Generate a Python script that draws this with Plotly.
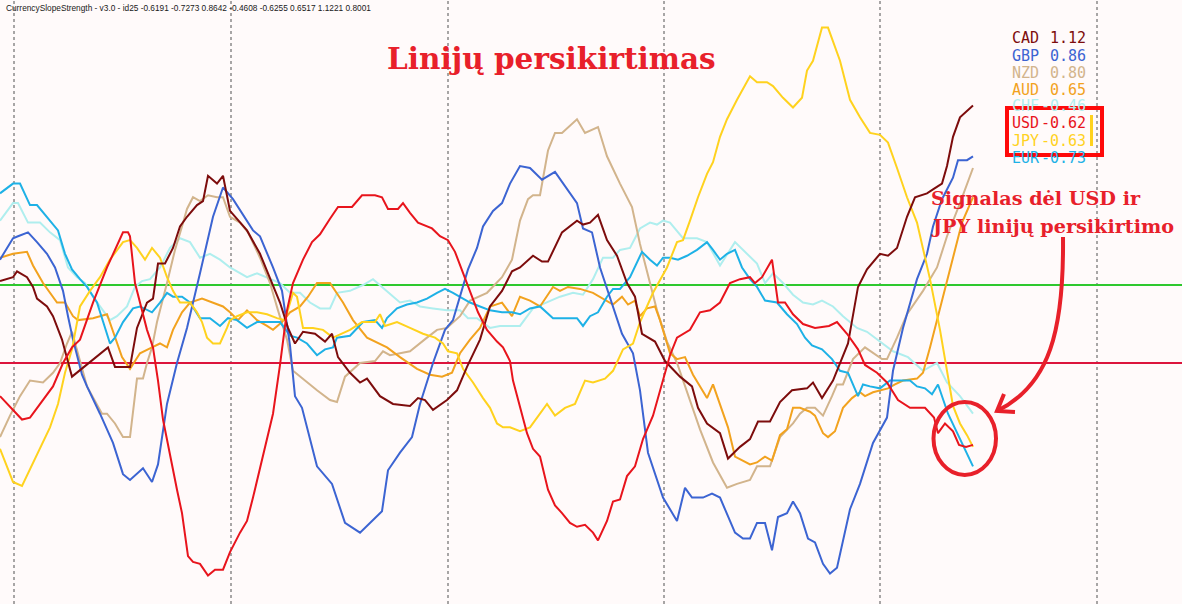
import plotly.graph_objects as go

W, H = 1182, 604

# (bar, value) pairs, one list per currency
cad = [(0, 0.22), (13, 0.24), (17, 0.27), (27, 0.24), (33, 0.19), (37, 0.13), (47, 0.09), (53, 0.04), (62, -0.08), (72, -0.27),
       (108, -0.12), (115, -0.22), (130, -0.22), (137, -0.02), (147, 0.11), (153, 0.13), (158, 0.31), (165, 0.31), (173, 0.39), (180, 0.50),
       (187, 0.55), (197, 0.61), (203, 0.63), (208, 0.76), (217, 0.72), (223, 0.76), (230, 0.58), (247, 0.48), (260, 0.36), (270, 0.23),
       (280, 0.11), (288, -0.02), (295, -0.10), (303, -0.04), (315, -0.05), (325, -0.09), (332, -0.05), (338, -0.17), (350, -0.25), (360, -0.30),
       (367, -0.28), (380, -0.37), (393, -0.41), (410, -0.42), (418, -0.38), (425, -0.39), (433, -0.44), (447, -0.39), (457, -0.34), (467, -0.22),
       (480, -0.08), (490, 0.09), (502, 0.17), (512, 0.27), (520, 0.29), (533, 0.35), (542, 0.32), (548, 0.32), (562, 0.47), (577, 0.53),
       (583, 0.51), (590, 0.52), (598, 0.56), (607, 0.43), (617, 0.35), (627, 0.21), (635, 0.14), (642, -0.05), (655, -0.09), (665, -0.19),
       (680, -0.27), (692, -0.32), (698, -0.43), (707, -0.51), (720, -0.56), (728, -0.69), (740, -0.63), (750, -0.59), (758, -0.50), (770, -0.50),
       (780, -0.40), (792, -0.34), (807, -0.33), (813, -0.30), (822, -0.38), (833, -0.29), (840, -0.20), (848, -0.10), (858, 0.19), (867, 0.28),
       (880, 0.36), (888, 0.35), (897, 0.39), (907, 0.55), (915, 0.65), (927, 0.67), (933, 0.69), (942, 0.72), (947, 0.81), (953, 0.96),
       (960, 1.06), (973, 1.12)]

gbp = [(0, 0.33), (13, 0.44), (18, 0.45), (28, 0.47), (37, 0.42), (47, 0.36), (55, 0.29), (63, 0.17), (68, 0.04), (73, -0.08),
       (82, -0.26), (87, -0.32), (100, -0.46), (113, -0.61), (123, -0.77), (130, -0.80), (143, -0.74), (152, -0.81), (158, -0.72), (167, -0.41),
       (177, -0.20), (187, -0.02), (200, 0.26), (213, 0.55), (223, 0.70), (233, 0.64), (253, 0.48), (260, 0.45), (273, 0.29), (282, 0.17),
       (290, -0.11), (295, -0.37), (302, -0.43), (317, -0.73), (332, -0.82), (345, -1.02), (360, -1.07), (370, -1.02), (382, -0.96), (388, -0.75),
       (400, -0.66), (412, -0.58), (420, -0.41), (433, -0.20), (445, -0.03), (453, 0.02), (460, 0.14), (468, 0.28), (477, 0.39), (483, 0.50),
       (493, 0.58), (502, 0.62), (510, 0.72), (520, 0.81), (530, 0.80), (542, 0.74), (555, 0.78), (567, 0.69), (577, 0.62), (583, 0.49),
       (592, 0.47), (600, 0.29), (610, 0.14), (622, -0.05), (633, -0.15), (640, -0.34), (648, -0.66), (663, -0.89), (677, -1.01), (685, -0.84),
       (692, -0.89), (703, -0.89), (712, -0.87), (720, -0.89), (735, -1.07), (743, -1.10), (750, -1.10), (757, -1.02), (765, -1.02), (772, -1.16),
       (778, -0.99), (787, -0.97), (793, -0.91), (800, -0.97), (808, -1.10), (815, -1.12), (823, -1.23), (830, -1.28), (837, -1.25), (850, -0.95),
       (860, -0.82), (873, -0.61), (887, -0.48), (893, -0.24), (903, -0.02), (917, 0.23), (927, 0.36), (933, 0.50), (942, 0.64), (953, 0.75),
       (958, 0.84), (967, 0.84), (973, 0.86)]

nzd = [(0, -0.58), (10, -0.47), (20, -0.37), (30, -0.29), (43, -0.30), (53, -0.25), (60, -0.20), (67, -0.10), (72, -0.04), (87, -0.32),
       (102, -0.46), (107, -0.46), (115, -0.51), (123, -0.58), (130, -0.58), (137, -0.28), (143, -0.28), (147, -0.20), (152, -0.12), (157, 0.01),
       (167, 0.21), (175, 0.38), (182, 0.50), (187, 0.59), (193, 0.65), (200, 0.63), (208, 0.66), (217, 0.65), (223, 0.65), (230, 0.55),
       (240, 0.52), (248, 0.47), (260, 0.34), (270, 0.21), (278, 0.07), (287, -0.08), (293, -0.24), (307, -0.30), (317, -0.34), (330, -0.39),
       (337, -0.40), (345, -0.27), (360, -0.20), (375, -0.19), (383, -0.14), (390, -0.16), (410, -0.14), (427, -0.07), (437, -0.03), (447, -0.02),
       (460, 0.04), (470, 0.12), (487, 0.16), (502, 0.24), (512, 0.33), (520, 0.53), (528, 0.64), (533, 0.66), (540, 0.66), (548, 0.89),
       (555, 0.98), (562, 0.98), (577, 1.05), (585, 0.98), (598, 1.01), (607, 0.86), (620, 0.72), (632, 0.60), (640, 0.41), (657, 0.07),
       (667, -0.09), (677, -0.20), (690, -0.39), (700, -0.54), (713, -0.71), (727, -0.84), (737, -0.82), (750, -0.80), (757, -0.73), (770, -0.73),
       (780, -0.58), (793, -0.51), (800, -0.46), (807, -0.43), (815, -0.43), (823, -0.47), (832, -0.37), (837, -0.31), (843, -0.31), (853, -0.18),
       (865, -0.12), (873, -0.15), (882, -0.18), (887, -0.18), (897, -0.07), (907, 0.05), (923, 0.17), (937, 0.29), (947, 0.45), (960, 0.62),
       (973, 0.80)]

aud = [(0, 0.34), (13, 0.36), (27, 0.37), (33, 0.30), (43, 0.21), (57, 0.11), (65, 0.11), (73, 0.04), (78, 0.02), (93, 0.03),
       (107, 0.05), (115, -0.07), (122, -0.17), (130, -0.23), (140, -0.15), (152, -0.12), (160, -0.10), (167, -0.12), (173, -0.03), (182, 0.06),
       (190, 0.11), (202, 0.13), (213, 0.11), (223, 0.09), (230, 0.06), (238, 0.02), (247, 0.07), (257, 0.02), (267, -0.01), (273, -0.03),
       (282, 0.01), (290, 0.06), (300, 0.09), (308, 0.14), (317, 0.21), (330, 0.21), (343, 0.11), (353, 0.02), (367, -0.07), (387, -0.12),
       (400, -0.17), (417, -0.23), (430, -0.26), (442, -0.27), (452, -0.25), (460, -0.15), (470, -0.08), (480, -0.02), (490, 0.09), (502, 0.11),
       (512, 0.04), (520, 0.14), (530, 0.12), (540, 0.09), (553, 0.19), (560, 0.17), (568, 0.19), (580, 0.18), (593, 0.16), (603, 0.13),
       (613, 0.10), (622, 0.14), (628, 0.10), (635, 0.12), (640, 0.04), (647, 0.08), (655, 0.09), (660, 0.02), (670, -0.15), (677, -0.18),
       (685, -0.17), (693, -0.26), (707, -0.38), (713, -0.31), (722, -0.44), (728, -0.53), (735, -0.68), (743, -0.70), (750, -0.72), (757, -0.71),
       (765, -0.68), (772, -0.70), (780, -0.57), (787, -0.54), (793, -0.43), (800, -0.43), (810, -0.45), (815, -0.47), (823, -0.56), (828, -0.58),
       (835, -0.55), (843, -0.43), (852, -0.38), (860, -0.35), (865, -0.37), (873, -0.35), (880, -0.34), (888, -0.33), (895, -0.31), (903, -0.29),
       (917, -0.28), (923, -0.25), (930, -0.12), (938, 0.04), (945, 0.17), (953, 0.33), (962, 0.52), (973, 0.65)]

chf = [(0, 0.53), (13, 0.62), (18, 0.62), (28, 0.52), (40, 0.52), (50, 0.47), (60, 0.43), (68, 0.29), (77, 0.24), (85, 0.21),
       (93, 0.14), (100, 0.09), (110, 0.02), (117, 0.04), (127, 0.09), (135, 0.19), (142, 0.22), (150, 0.23), (160, 0.29), (170, 0.39),
       (180, 0.44), (190, 0.42), (200, 0.34), (210, 0.36), (220, 0.33), (230, 0.29), (247, 0.24), (257, 0.26), (267, 0.24), (280, 0.21),
       (290, 0.16), (300, 0.16), (310, 0.11), (320, 0.08), (330, 0.08), (337, 0.16), (350, 0.17), (363, 0.20), (373, 0.23), (387, 0.17),
       (400, 0.11), (410, 0.12), (420, 0.09), (433, 0.08), (447, 0.07), (460, 0.07), (468, 0.03), (477, 0.03), (490, -0.02), (500, -0.01),
       (520, -0.01), (533, 0.08), (547, 0.11), (560, 0.14), (573, 0.16), (583, 0.15), (593, 0.23), (603, 0.34), (613, 0.34), (620, 0.38),
       (630, 0.39), (640, 0.49), (650, 0.52), (657, 0.51), (663, 0.53), (670, 0.52), (683, 0.44), (697, 0.44), (707, 0.42), (720, 0.30),
       (735, 0.42), (747, 0.36), (757, 0.31), (765, 0.21), (773, 0.26), (783, 0.21), (793, 0.15), (803, 0.11), (813, 0.10), (822, 0.12),
       (833, 0.09), (843, 0.04), (857, -0.02), (867, -0.04), (880, -0.09), (893, -0.14), (908, -0.17), (923, -0.24), (937, -0.20), (947, -0.30),
       (960, -0.37), (973, -0.46)]

usd = [(0, -0.37), (13, -0.44), (22, -0.49), (30, -0.48), (43, -0.39), (53, -0.32), (63, -0.20), (72, -0.12), (80, -0.08), (93, 0.11),
       (107, 0.29), (115, 0.38), (123, 0.47), (128, 0.47), (130, 0.45), (135, 0.21), (140, 0.11), (147, -0.03), (153, -0.12), (158, -0.29),
       (163, -0.49), (170, -0.68), (177, -0.85), (182, -0.97), (188, -1.19), (193, -1.22), (200, -1.23), (208, -1.29), (215, -1.26), (223, -1.26),
       (230, -1.17), (240, -1.07), (247, -1.01), (253, -0.89), (263, -0.68), (273, -0.46), (280, -0.21), (287, 0.07), (293, 0.21), (303, 0.33),
       (312, 0.42), (320, 0.46), (330, 0.54), (338, 0.60), (352, 0.60), (362, 0.66), (375, 0.66), (382, 0.65), (388, 0.59), (398, 0.59),
       (403, 0.62), (410, 0.57), (418, 0.52), (432, 0.49), (440, 0.45), (448, 0.43), (455, 0.37), (463, 0.26), (470, 0.16), (478, 0.06),
       (487, -0.03), (497, -0.09), (503, -0.12), (510, -0.19), (513, -0.29), (520, -0.43), (527, -0.56), (533, -0.64), (540, -0.68), (548, -0.85),
       (555, -0.93), (562, -0.97), (570, -1.02), (577, -1.04), (585, -1.03), (593, -1.07), (598, -1.11), (607, -1.01), (613, -0.91), (620, -0.90),
       (627, -0.78), (635, -0.73), (643, -0.59), (653, -0.47), (663, -0.29), (670, -0.16), (677, -0.07), (690, -0.03), (700, 0.06), (710, 0.07),
       (720, 0.11), (730, 0.21), (740, 0.23), (750, 0.24), (755, 0.21), (762, 0.24), (772, 0.33), (778, 0.11), (785, 0.11), (793, 0.05),
       (803, 0.00), (815, -0.02), (829, -0.01), (837, 0.01), (847, -0.05), (858, -0.13), (865, -0.21), (877, -0.25), (887, -0.30), (898, -0.39),
       (910, -0.43), (925, -0.43), (934, -0.48), (938, -0.56), (945, -0.51), (953, -0.55), (959, -0.62), (966, -0.63), (973, -0.62)]

jpy = [(0, -0.64), (13, -0.81), (22, -0.83), (33, -0.71), (50, -0.53), (58, -0.41), (65, -0.25), (72, -0.13), (80, 0.09), (90, 0.17),
       (100, 0.24), (110, 0.33), (117, 0.38), (123, 0.42), (130, 0.43), (137, 0.39), (145, 0.33), (152, 0.39), (160, 0.34), (167, 0.24),
       (173, 0.17), (180, 0.11), (190, 0.11), (197, 0.06), (202, 0.01), (207, -0.07), (213, -0.10), (220, -0.10), (227, -0.02), (230, 0.02),
       (237, 0.04), (247, 0.06), (257, 0.06), (267, 0.05), (277, 0.03), (285, 0.02), (293, 0.16), (297, 0.14), (303, -0.02), (313, -0.02),
       (323, -0.03), (333, -0.07), (350, -0.03), (362, 0.01), (375, 0.01), (380, 0.05), (385, -0.01), (397, 0.01), (410, -0.02), (423, -0.05),
       (435, -0.07), (443, -0.10), (448, -0.14), (457, -0.15), (463, -0.23), (473, -0.30), (483, -0.38), (490, -0.43), (497, -0.51), (503, -0.53),
       (510, -0.53), (520, -0.55), (530, -0.53), (540, -0.46), (547, -0.41), (555, -0.47), (565, -0.43), (575, -0.41), (585, -0.29), (593, -0.30),
       (605, -0.28), (613, -0.24), (623, -0.13), (633, -0.10), (640, 0.01), (653, 0.16), (667, 0.29), (677, 0.42), (683, 0.43), (690, 0.53),
       (698, 0.65), (707, 0.77), (713, 0.83), (720, 0.96), (727, 1.05), (737, 1.15), (750, 1.27), (757, 1.24), (767, 1.24), (773, 1.22),
       (783, 1.16), (793, 1.11), (802, 1.16), (807, 1.30), (813, 1.35), (822, 1.52), (828, 1.52), (840, 1.35), (850, 1.15), (860, 1.06),
       (870, 0.98), (880, 0.97), (888, 0.93), (897, 0.80), (907, 0.65), (917, 0.52), (923, 0.39), (930, 0.23), (940, -0.03), (947, -0.24),
       (953, -0.42), (960, -0.51), (967, -0.57), (973, -0.63)]

eur = [(0, 0.67), (13, 0.72), (20, 0.72), (30, 0.61), (37, 0.61), (47, 0.55), (58, 0.48), (65, 0.36), (72, 0.28), (80, 0.23),
       (87, 0.19), (97, 0.11), (103, 0.01), (110, -0.10), (115, -0.07), (123, 0.01), (133, 0.08), (140, 0.09), (152, 0.06), (160, 0.11),
       (167, 0.16), (173, 0.14), (182, 0.14), (190, 0.11), (200, 0.03), (210, 0.03), (220, -0.01), (228, 0.03), (237, 0.02), (247, -0.02),
       (257, 0.01), (267, 0.01), (280, 0.01), (290, -0.06), (297, -0.07), (307, -0.10), (317, -0.16), (325, -0.13), (333, -0.12), (337, -0.07),
       (350, -0.06), (363, 0.01), (375, 0.02), (382, -0.02), (387, 0.03), (397, 0.08), (407, 0.10), (417, 0.11), (427, 0.13), (437, 0.16),
       (445, 0.18), (453, 0.16), (460, 0.14), (470, 0.11), (480, 0.09), (490, 0.07), (502, 0.06), (512, 0.06), (520, 0.05), (530, 0.08),
       (540, 0.09), (553, 0.03), (567, 0.03), (577, 0.03), (583, -0.01), (590, 0.04), (598, 0.06), (607, 0.14), (613, 0.18), (620, 0.18),
       (630, 0.24), (642, 0.37), (650, 0.33), (657, 0.30), (663, 0.34), (670, 0.34), (678, 0.33), (687, 0.35), (697, 0.38), (707, 0.42),
       (713, 0.38), (720, 0.33), (727, 0.36), (735, 0.38), (742, 0.29), (750, 0.23), (757, 0.19), (765, 0.12), (777, 0.11), (787, 0.05),
       (797, 0.00), (805, -0.07), (812, -0.11), (822, -0.13), (832, -0.18), (840, -0.24), (848, -0.25), (858, -0.37), (863, -0.31), (870, -0.32),
       (880, -0.33), (890, -0.29), (900, -0.29), (910, -0.29), (917, -0.32), (925, -0.33), (932, -0.36), (938, -0.31), (948, -0.46), (958, -0.57),
       (965, -0.65), (973, -0.73)]

legend_names = ["CAD", "GBP", "NZD", "AUD", "CHF", "USD", "JPY", "EUR"]
legend_values = ["1.12", "0.86", "0.80", "0.65", "-0.46", "-0.62", "-0.63", "-0.73"]
levels = [0.2, -0.2]
grid_bars = [14, 231, 448, 664, 880, 1097]

header = "CurrencySlopeStrength - v3.0 - id25 -0.6191 -0.7273 0.8642 -0.4608 -0.6255 0.6517 1.1221 0.8001"
title = "Linijų persikirtimas"
note_lines = ["Signalas dėl USD ir", "JPY linijų persikirtimo"]

colors = {
    "CAD": "#7d0c0c", "GBP": "#3c64d2", "NZD": "#d2b48c", "AUD": "#f2a21e",
    "CHF": "#afeeee", "USD": "#e8141c", "JPY": "#ffd21e", "EUR": "#1eb1e6",
}
series = {"CHF": chf, "NZD": nzd, "AUD": aud, "EUR": eur, "GBP": gbp, "JPY": jpy, "CAD": cad, "USD": usd}

RED = "#e8202a"
BG = "#fffafa"


def px(x, y):
    # pixel position in the window -> paper coordinates
    return x / W, 1 - y / H


def path(points, close=False):
    parts = []
    for i, (x, y) in enumerate(points):
        a, b = px(x, y)
        parts.append(("M" if i == 0 else "L") + f"{a:.5f},{b:.5f}")
    return " ".join(parts) + (" Z" if close else "")


fig = go.Figure()

for name, pts in series.items():
    fig.add_trace(go.Scatter(
        x=[p[0] for p in pts], y=[p[1] for p in pts],
        mode="lines", line=dict(color=colors[name], width=2),
        name=name, hoverinfo="skip", showlegend=False,
    ))

shapes = []
for g in grid_bars:
    shapes.append(dict(type="line", xref="x", yref="paper", x0=g, x1=g, y0=0, y1=1,
                       line=dict(color="#505050", width=1, dash="3px,3px"), layer="below"))
shapes.append(dict(type="line", xref="paper", yref="y", x0=0, x1=1, y0=levels[0], y1=levels[0],
                   line=dict(color="#2ec82e", width=2), layer="below"))
shapes.append(dict(type="line", xref="paper", yref="y", x0=0, x1=1, y0=levels[1], y1=levels[1],
                   line=dict(color="#dc143c", width=2), layer="below"))

# red box around USD / JPY readings and the small yellow marker inside it
x0, y0 = px(1007, 155)
x1, y1 = px(1102, 108)
shapes.append(dict(type="rect", xref="paper", yref="paper", x0=x0, y0=y0, x1=x1, y1=y1,
                   line=dict(color="#ff0a0a", width=4)))
mx, my0 = px(1091.5, 146)
_, my1 = px(1091.5, 115)
shapes.append(dict(type="line", xref="paper", yref="paper", x0=mx, x1=mx, y0=my0, y1=my1,
                   line=dict(color="#ffd21e", width=3)))

# circle around the crossing
cx0, cy0 = px(933.5, 475)
cx1, cy1 = px(996, 402)
shapes.append(dict(type="circle", xref="paper", yref="paper", x0=cx0, y0=cy0, x1=cx1, y1=cy1,
                   line=dict(color=RED, width=4)))

# curved arrow from the note to the circle
s = [px(1063, 237), px(1064, 330), px(1050, 385), px(997, 411)]
curve = f"M{s[0][0]:.5f},{s[0][1]:.5f} C{s[1][0]:.5f},{s[1][1]:.5f} {s[2][0]:.5f},{s[2][1]:.5f} {s[3][0]:.5f},{s[3][1]:.5f}"
shapes.append(dict(type="path", xref="paper", yref="paper", path=curve, line=dict(color=RED, width=4)))
shapes.append(dict(type="path", xref="paper", yref="paper",
                   path=path([(1004, 394), (997, 411), (1015, 412)]), line=dict(color=RED, width=4)))

annotations = []
hx, hy = px(4, 8)
annotations.append(dict(text=header, xref="paper", yref="paper", x=hx, y=hy, xanchor="left", yanchor="middle",
                        showarrow=False, font=dict(family="Liberation Sans", size=8.3, color="#202020")))
tx, ty = px(551, 58)
annotations.append(dict(text=f"<b>{title}</b>", xref="paper", yref="paper", x=tx, y=ty, xanchor="center",
                        yanchor="middle", showarrow=False,
                        font=dict(family="DejaVu Serif", size=29.5, color=RED)))
for i, line in enumerate(note_lines):
    nx, ny = px(929, 199 + 27 * i)
    annotations.append(dict(text=f"<b>{line}</b>", xref="paper", yref="paper", x=nx, y=ny, xanchor="left",
                            yanchor="middle", showarrow=False,
                            font=dict(family="DejaVu Serif", size=19.2, color=RED)))
for i, (name, val) in enumerate(zip(legend_names, legend_values)):
    lx, ly = px(1010, 38.5 + 17 * i)
    rx, _ = px(1088, 0)
    mono = dict(family="DejaVu Sans Mono", size=15, color=colors[name])
    annotations.append(dict(text=name, xref="paper", yref="paper", x=lx, y=ly, xanchor="left", yanchor="middle",
                            showarrow=False, font=mono))
    annotations.append(dict(text=val, xref="paper", yref="paper", x=rx, y=ly, xanchor="right", yanchor="middle",
                            showarrow=False, font=mono))

# 324 px from the top is zero, 195 px per unit
y_top = 324 / 195
y_bot = -(H - 324) / 195

fig.update_layout(
    width=W, height=H, autosize=False,
    margin=dict(l=0, r=0, t=0, b=0),
    paper_bgcolor=BG, plot_bgcolor=BG,
    shapes=shapes, annotations=annotations,
    xaxis=dict(range=[0, W], visible=False, fixedrange=True),
    yaxis=dict(range=[y_bot, y_top], visible=False, fixedrange=True),
    showlegend=False,
)

fig.write_html("out.html", config={"displayModeBar": False},
               post_script="document.body.style.margin='0';document.body.style.padding='0';"
                           "document.body.style.overflow='hidden';")
